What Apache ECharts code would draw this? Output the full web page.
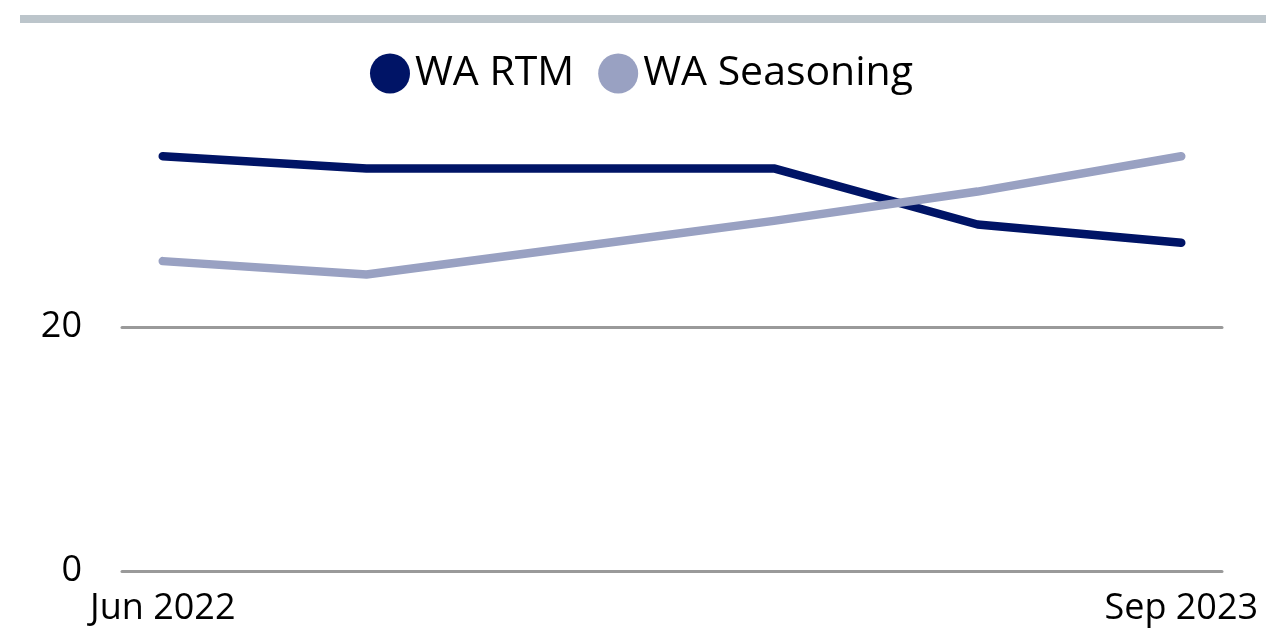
<!DOCTYPE html>
<html>
<head>
<meta charset="utf-8">
<script src="https://cdn.jsdelivr.net/npm/echarts@6/dist/echarts.min.js"></script>
<style>
html,body{margin:0;padding:0;background:#fff;}
#chart{width:1266px;height:631px;}
</style>
</head>
<body>
<div id="chart"></div>
<script>
const categories = ['Jun 2022','Sep 2022','Dec 2022','Mar 2023','Jun 2023','Sep 2023'];
const waRtm = [34.0, 33.0, 33.0, 33.0, 28.4, 26.9];
const waSeasoning = [25.4, 24.3, 26.5, 28.7, 31.1, 34.0];
const yTicks = [0, 20];
const xLabelIdx = [0, categories.length - 1];

const FONT = '"Open Sans", "Noto Sans", sans-serif';
const toPairs = arr => arr.map((v, i) => [i, v]);

const chart = echarts.init(document.getElementById('chart'));
chart.setOption({
  animation: false,
  backgroundColor: '#ffffff',
  graphic: [{
    type: 'rect',
    shape: {x: 20, y: 15, width: 1246, height: 8},
    style: {fill: '#bcc5cb'}
  }],
  legend: {
    top: 48,
    left: 365,
    icon: 'circle',
    itemWidth: 40,
    itemHeight: 40,
    itemGap: 24,
    textStyle: {fontFamily: FONT, fontSize: 41, color: '#000'},
    data: ['WA RTM', 'WA Seasoning']
  },
  grid: {left: 122, right: 44, top: 83, bottom: 60, containLabel: false},
  xAxis: {
    type: 'value',
    min: -0.2,
    max: categories.length - 1 + 0.2,
    axisLine: {show: false},
    axisTick: {show: false},
    splitLine: {show: false},
    axisLabel: {
      customValues: xLabelIdx,
      formatter: v => categories[Math.round(v)] || '',
      fontFamily: FONT, fontSize: 36, color: '#000', margin: 20
    }
  },
  yAxis: {
    type: 'value',
    min: 0, max: 40, interval: 20,
    axisLine: {show: false},
    axisTick: {show: false},
    axisLabel: {
      customValues: yTicks,
      fontFamily: FONT, fontSize: 36, color: '#000', margin: 40
    },
    splitLine: {
      show: true,
      showMaxLine: false,
      lineStyle: {color: '#9a9a9a', width: 3, cap: 'round'}
    }
  },
  series: [
    {
      name: 'WA RTM', type: 'line', data: toPairs(waRtm),
      symbol: 'none', color: '#001466',
      lineStyle: {width: 8.5, cap: 'round', join: 'round', color: '#001466'}
    },
    {
      name: 'WA Seasoning', type: 'line', data: toPairs(waSeasoning),
      symbol: 'none', color: '#99a1c2',
      lineStyle: {width: 8.5, cap: 'round', join: 'round', color: '#99a1c2'}
    }
  ]
});
</script>
</body>
</html>
